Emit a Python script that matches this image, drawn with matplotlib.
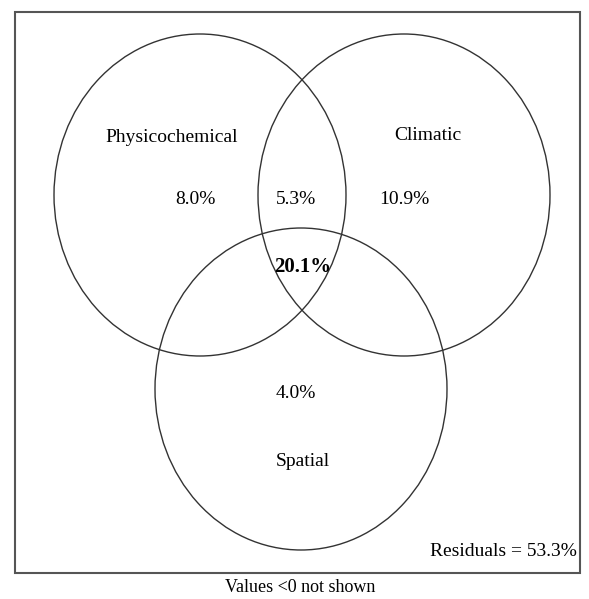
import matplotlib
matplotlib.use("Agg")
import matplotlib.pyplot as plt
from matplotlib.patches import Ellipse, Rectangle

# Data
set_names = ["Physicochemical", "Climatic", "Spatial"]
region_labels = ["8.0%", "5.3%", "10.9%", "20.1%", "4.0%"]
residual_value = "53.3%"
footnote = "Values <0 not shown"

plt.rcParams['font.family'] = ['Liberation Serif', 'DejaVu Serif']

fig = plt.figure(figsize=(5.89, 5.99), dpi=100)
ax = fig.add_axes([0, 0, 1, 1])
ax.set_xlim(0, 589)
ax.set_ylim(599, 0)
ax.axis('off')

# frame
ax.add_patch(Rectangle((15, 12), 565, 561, fill=False, edgecolor='#555555', linewidth=1.5))

# circles
centers = [(200, 195), (404, 195), (301, 389)]
for c in centers:
    ax.add_patch(Ellipse(c, 292, 322, fill=False, edgecolor='#333333', linewidth=1.0))

fs = 14
ax.text(172, 137, set_names[0], ha='center', va='center', fontsize=fs)
ax.text(428, 135, set_names[1], ha='center', va='center', fontsize=fs)
ax.text(303, 462, set_names[2], ha='center', va='center', fontsize=fs)

ax.text(195, 200, region_labels[0], ha='center', va='center', fontsize=fs)
ax.text(296, 200, region_labels[1], ha='center', va='center', fontsize=fs)
ax.text(404, 200, region_labels[2], ha='center', va='center', fontsize=fs)
ax.text(303, 267, region_labels[3], ha='center', va='center', fontsize=15, fontweight='bold')
ax.text(296, 394, region_labels[4], ha='center', va='center', fontsize=fs)

ax.text(577, 551, "Residuals = " + residual_value, ha='right', va='center', fontsize=fs)
ax.text(300, 588, footnote, ha='center', va='center', fontsize=13)

fig.savefig("out.png", dpi=100)
